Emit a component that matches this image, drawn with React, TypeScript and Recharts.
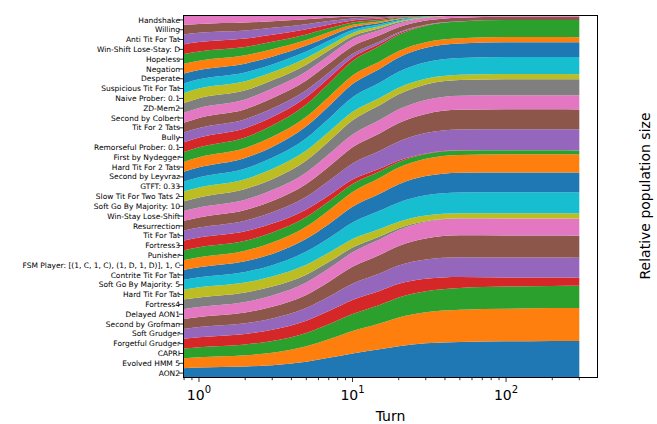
import { Area, AreaChart, XAxis, YAxis } from 'recharts';

const FONT = '"DejaVu Sans", sans-serif';
const COLOURS = ['#1f77b4', '#ff7f0e', '#2ca02c', '#d62728', '#9467bd', '#8c564b', '#e377c2', '#7f7f7f', '#bcbd22', '#17becf'];

// bottom of the stack first (best ranked)
const NAMES = [
  'AON2',
  'Evolved HMM 5',
  'CAPRI',
  'Forgetful Grudger',
  'Soft Grudger',
  'Second by Grofman',
  'Delayed AON1',
  'Fortress4',
  'Hard Tit For Tat',
  'Soft Go By Majority: 5',
  'Contrite Tit For Tat',
  'FSM Player: [(1, C, 1, C), (1, D, 1, D)], 1, C',
  'Punisher',
  'Fortress3',
  'Tit For Tat',
  'Resurrection',
  'Win-Stay Lose-Shift',
  'Soft Go By Majority: 10',
  'Slow Tit For Two Tats 2',
  'GTFT: 0.33',
  'Second by Leyvraz',
  'Hard Tit For 2 Tats',
  'First by Nydegger',
  'Remorseful Prober: 0.1',
  'Bully',
  'Tit For 2 Tats',
  'Second by Colbert',
  'ZD-Mem2',
  'Naive Prober: 0.1',
  'Suspicious Tit For Tat',
  'Desperate',
  'Negation',
  'Hopeless',
  'Win-Shift Lose-Stay: D',
  'Anti Tit For Tat',
  'Willing',
  'Handshake',
];

const TURNS = [0, 1, 2, 3, 5, 7, 10, 15, 20, 30, 50, 100, 200, 300];

// relative population size at each of TURNS
const aon2 = [0.027, 0.028, 0.030, 0.033, 0.041, 0.050, 0.061, 0.074, 0.084, 0.094, 0.099, 0.101, 0.102, 0.102];
const evolvedHmm5 = [0.027, 0.028, 0.030, 0.032, 0.039, 0.046, 0.056, 0.067, 0.076, 0.084, 0.088, 0.090, 0.091, 0.091];
const capri = [0.027, 0.027, 0.028, 0.030, 0.033, 0.037, 0.042, 0.048, 0.053, 0.057, 0.060, 0.061, 0.061, 0.061];
const forgetfulGrudger = [0.027, 0.027, 0.028, 0.029, 0.031, 0.033, 0.035, 0.036, 0.036, 0.034, 0.030, 0.025, 0.023, 0.022];
const softGrudger = [0.027, 0.027, 0.028, 0.029, 0.032, 0.035, 0.040, 0.045, 0.048, 0.052, 0.054, 0.055, 0.055, 0.055];
const secondByGrofman = [0.027, 0.027, 0.028, 0.030, 0.033, 0.037, 0.042, 0.048, 0.052, 0.057, 0.060, 0.061, 0.061, 0.061];
const delayedAon1 = [0.027, 0.027, 0.028, 0.029, 0.031, 0.033, 0.036, 0.040, 0.042, 0.045, 0.046, 0.047, 0.047, 0.047];
const fortress4 = [0.027, 0.026, 0.025, 0.023, 0.020, 0.016, 0.012, 0.008, 0.005, 0.002, 0.0005, 0, 0, 0];
const hardTitForTat = [0.027, 0.027, 0.026, 0.026, 0.025, 0.023, 0.021, 0.019, 0.017, 0.015, 0.014, 0.014, 0.014, 0.014];
const softGoByMajority5 = [0.027, 0.027, 0.028, 0.029, 0.033, 0.036, 0.041, 0.047, 0.051, 0.055, 0.057, 0.058, 0.058, 0.058];
const contriteTitForTat = [0.027, 0.027, 0.028, 0.029, 0.032, 0.035, 0.039, 0.044, 0.048, 0.052, 0.054, 0.055, 0.055, 0.055];
const fsmPlayer = [0.027, 0.027, 0.028, 0.029, 0.031, 0.034, 0.037, 0.041, 0.044, 0.047, 0.049, 0.050, 0.050, 0.050];
const punisher = [0.027, 0.027, 0.026, 0.026, 0.024, 0.022, 0.020, 0.017, 0.015, 0.013, 0.012, 0.011, 0.011, 0.011];
const fortress3 = [0.027, 0.026, 0.025, 0.023, 0.019, 0.015, 0.011, 0.007, 0.004, 0.0015, 0.0004, 0, 0, 0];
const titForTat = [0.027, 0.027, 0.028, 0.029, 0.032, 0.036, 0.040, 0.046, 0.050, 0.055, 0.057, 0.058, 0.058, 0.058];
const resurrection = [0.027, 0.027, 0.028, 0.029, 0.032, 0.035, 0.040, 0.045, 0.049, 0.052, 0.054, 0.055, 0.055, 0.055];
const winStayLoseShift = [0.027, 0.027, 0.027, 0.028, 0.029, 0.031, 0.032, 0.035, 0.036, 0.038, 0.039, 0.039, 0.039, 0.039];
const softGoByMajority10 = [0.027, 0.027, 0.028, 0.028, 0.030, 0.032, 0.035, 0.038, 0.040, 0.042, 0.043, 0.044, 0.044, 0.044];
const slowTitForTwoTats2 = [0.027, 0.027, 0.026, 0.026, 0.025, 0.023, 0.021, 0.019, 0.017, 0.015, 0.014, 0.014, 0.014, 0.014];
const gtft = [0.027, 0.027, 0.028, 0.029, 0.031, 0.033, 0.036, 0.039, 0.042, 0.045, 0.046, 0.047, 0.047, 0.047];
const secondByLeyvraz = [0.027, 0.027, 0.028, 0.028, 0.030, 0.031, 0.033, 0.036, 0.038, 0.039, 0.040, 0.041, 0.041, 0.041];
const hardTitFor2Tats = [0.027, 0.027, 0.026, 0.026, 0.024, 0.023, 0.021, 0.019, 0.017, 0.015, 0.014, 0.014, 0.014, 0.014];
const firstByNydegger = [0.027, 0.027, 0.028, 0.029, 0.031, 0.033, 0.036, 0.040, 0.043, 0.045, 0.046, 0.047, 0.047, 0.047];
const remorsefulProber = [0.027, 0.026, 0.024, 0.022, 0.018, 0.014, 0.009, 0.006, 0.0035, 0.0014, 0.0003, 0, 0, 0];
const bully = [0.027, 0.026, 0.024, 0.022, 0.018, 0.013, 0.009, 0.006, 0.0035, 0.0014, 0.0003, 0, 0, 0];
const titFor2Tats = [0.027, 0.027, 0.026, 0.026, 0.024, 0.022, 0.019, 0.016, 0.013, 0.011, 0.010, 0.009, 0.009, 0.009];
const secondByColbert = [0.027, 0.027, 0.026, 0.025, 0.023, 0.020, 0.017, 0.013, 0.010, 0.007, 0.006, 0.005, 0.005, 0.005];
const zdMem2 = [0.027, 0.026, 0.024, 0.021, 0.017, 0.013, 0.008, 0.005, 0.003, 0.0011, 0.0002, 0, 0, 0];
const naiveProber = [0.027, 0.026, 0.024, 0.021, 0.017, 0.012, 0.008, 0.005, 0.003, 0.0011, 0.0002, 0, 0, 0];
const suspiciousTitForTat = [0.027, 0.025, 0.023, 0.020, 0.016, 0.012, 0.007, 0.0045, 0.0026, 0.001, 0.0002, 0, 0, 0];
const desperate = [0.027, 0.025, 0.023, 0.020, 0.015, 0.011, 0.007, 0.004, 0.0024, 0.0009, 0.0002, 0, 0, 0];
const negation = [0.027, 0.025, 0.022, 0.019, 0.014, 0.010, 0.006, 0.004, 0.0022, 0.0008, 0.0001, 0, 0, 0];
const hopeless = [0.027, 0.025, 0.022, 0.019, 0.014, 0.010, 0.006, 0.004, 0.0022, 0.0008, 0.0001, 0, 0, 0];
const winShiftLoseStay = [0.027, 0.025, 0.022, 0.018, 0.013, 0.009, 0.005, 0.0035, 0.0019, 0.0007, 0.0001, 0, 0, 0];
const antiTitForTat = [0.027, 0.025, 0.021, 0.018, 0.013, 0.009, 0.005, 0.0035, 0.0019, 0.0007, 0.0001, 0, 0, 0];
const willing = [0.027, 0.024, 0.021, 0.017, 0.012, 0.008, 0.0045, 0.003, 0.0016, 0.0006, 0.0001, 0, 0, 0];
const handshake = [0.027, 0.024, 0.020, 0.016, 0.011, 0.007, 0.004, 0.0028, 0.0015, 0.0005, 0.0001, 0, 0, 0];

const POPULATIONS = [
  aon2, evolvedHmm5, capri, forgetfulGrudger, softGrudger, secondByGrofman, delayedAon1,
  fortress4, hardTitForTat, softGoByMajority5, contriteTitForTat, fsmPlayer, punisher,
  fortress3, titForTat, resurrection, winStayLoseShift, softGoByMajority10, slowTitForTwoTats2,
  gtft, secondByLeyvraz, hardTitFor2Tats, firstByNydegger, remorsefulProber, bully,
  titFor2Tats, secondByColbert, zdMem2, naiveProber, suspiciousTitForTat, desperate,
  negation, hopeless, winShiftLoseStay, antiTitForTat, willing, handshake,
];

const X_DOMAIN: [number, number] = [0.787, 397];
const MAJOR_TICKS = [1, 10, 100];
const X_TICKS = [0.8, 0.9, 1, 2, 3, 4, 5, 6, 7, 8, 9, 10, 20, 30, 40, 50, 60, 70, 80, 90, 100, 200, 300];
const Y_TICKS = NAMES.map((_, i) => (i + 0.5) / NAMES.length);

// turn 0 can't sit on a log axis, so it is clipped to the left edge (like matplotlib does)
const table = TURNS.map((turn, t) => {
  const row: Record<string, number> = { turn: turn === 0 ? X_DOMAIN[0] : turn };
  POPULATIONS.forEach((pop, i) => {
    row['s' + i] = pop[t];
  });
  return row;
});

function TurnTick({ x, y, payload }: any) {
  const v = payload.value;
  const major = MAJOR_TICKS.includes(v);
  return (
    <g>
      <line x1={x} x2={x} y1={y} y2={y + (major ? 4 : 2.2)} stroke="#000" strokeWidth={0.8} />
      {major && (
        <text x={x} y={y + 22} textAnchor="middle" fontSize={14} fontFamily={FONT} fill="#000">
          10
          <tspan dy={-7} fontSize={10}>
            {Math.round(Math.log10(v))}
          </tspan>
        </text>
      )}
    </g>
  );
}

function NameTick({ x, y, index }: any) {
  return (
    <g>
      <line x1={x - 4} x2={x} y1={y} y2={y} stroke="#000" strokeWidth={0.8} />
      <text x={x - 3} y={y + 2.6} textAnchor="end" fontSize={7.5} fontFamily={FONT} fill="#000">
        {NAMES[index]}
      </text>
    </g>
  );
}

export default function App() {
  return (
    <div style={{ position: 'relative', width: 657, height: 424, background: '#fff' }}>
      <style>{'body { margin: 0; }'}</style>
      <AreaChart
        width={657}
        height={424}
        data={table}
        stackOffset="expand"
        margin={{ top: 15, right: 59, bottom: 0, left: 0 }}
      >
        <XAxis
          dataKey="turn"
          type="number"
          scale="log"
          domain={X_DOMAIN}
          allowDataOverflow
          ticks={X_TICKS}
          interval={0}
          tick={<TurnTick />}
          tickLine={false}
          tickSize={0}
          tickMargin={0}
          axisLine={false}
          height={46}
          label={{ value: 'Turn', position: 'insideBottom', offset: 3, fontSize: 14, fontFamily: FONT, fill: '#000' }}
        />
        <YAxis
          type="number"
          domain={[0, 1]}
          ticks={Y_TICKS}
          interval={0}
          tick={<NameTick />}
          tickLine={false}
          tickSize={0}
          tickMargin={0}
          axisLine={false}
          width={183}
        />
        {POPULATIONS.map((_, i) => (
          <Area
            key={i}
            dataKey={'s' + i}
            stackId="pop"
            type="monotone"
            fill={COLOURS[i % COLOURS.length]}
            fillOpacity={1}
            stroke="none"
            dot={false}
            activeDot={false}
            isAnimationActive={false}
          />
        ))}
      </AreaChart>
      <div
        style={{
          position: 'absolute',
          left: 183,
          top: 15,
          width: 415,
          height: 363,
          boxSizing: 'border-box',
          border: '1px solid #000',
          pointerEvents: 'none',
        }}
      />
      <div
        style={{
          position: 'absolute',
          left: 645,
          top: 196,
          transform: 'translate(-50%, -50%) rotate(-90deg)',
          whiteSpace: 'nowrap',
          fontFamily: FONT,
          fontSize: 14,
          color: '#000',
        }}
      >
        Relative population size
      </div>
    </div>
  );
}
